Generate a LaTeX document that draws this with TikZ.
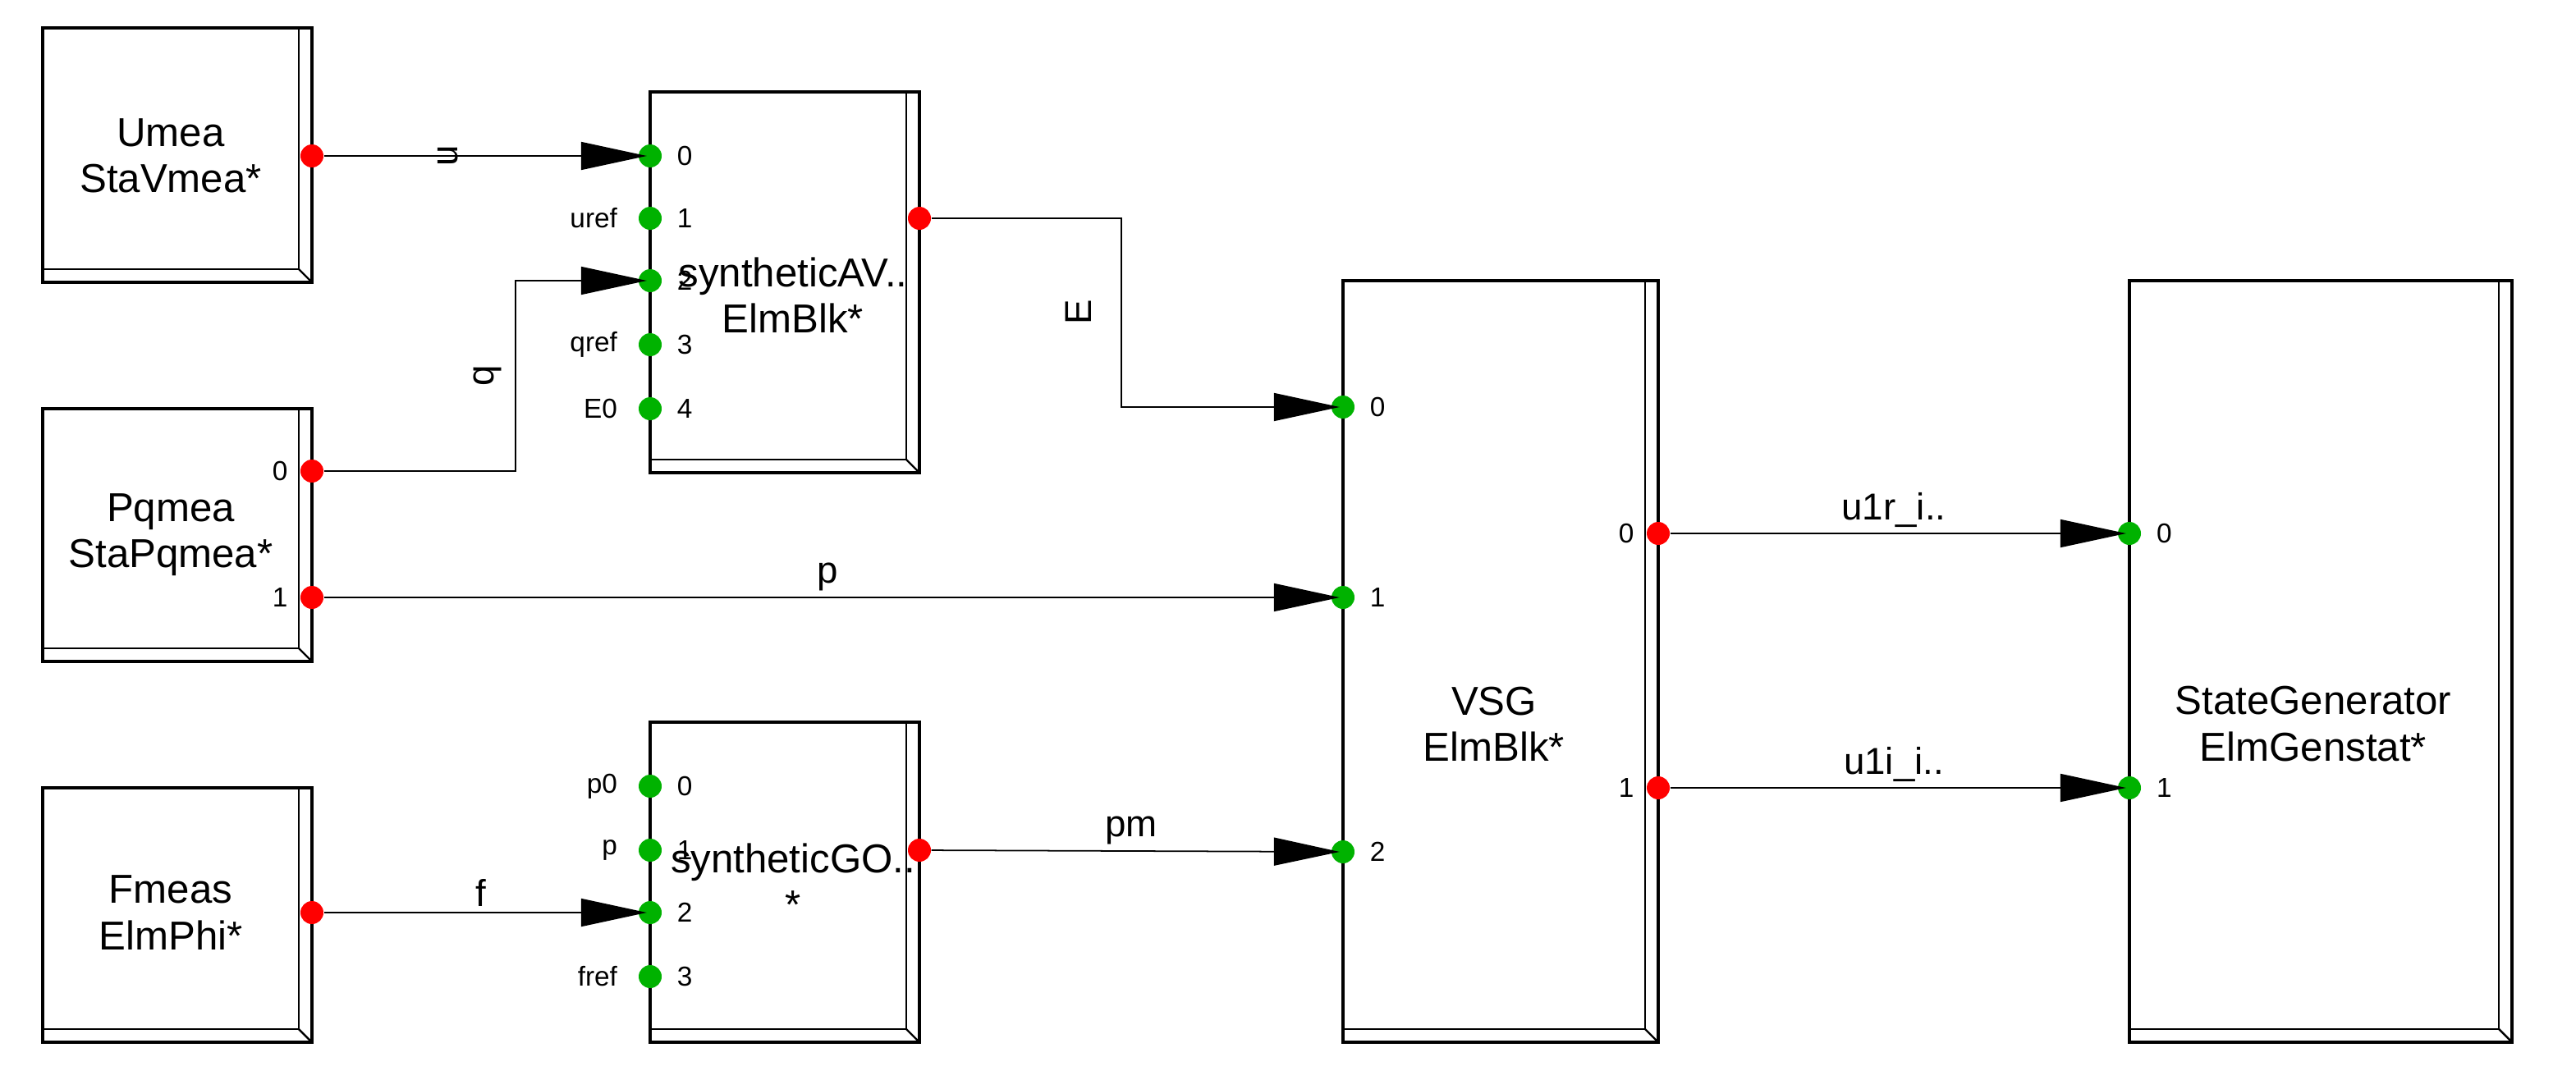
\documentclass[tikz,border=0pt]{standalone}
\usepackage{fontspec}
\setmainfont{Liberation Sans}
\usetikzlibrary{arrows.meta,positioning}

\tikzset{
  blk/.style={draw=black, line width=0.9pt, fill=white},
  bev/.style={draw=black, line width=0.7pt},
  pin/.style={circle, inner sep=0pt, minimum size=0.28cm},
  inp/.style={pin, fill=green!70!black},
  outp/.style={pin, fill=red},
  title/.style={font=\fontsize{14}{16}\selectfont, align=center},
  plab/.style={font=\fontsize{9.5}{11}\selectfont, inner sep=1pt},
  wire/.style={draw=black, line width=0.5pt},
  sig/.style={wire, -{Triangle[length=0.8cm,width=0.34cm,fill=black]}, shorten >=-3pt},
  wlab/.style={font=\fontsize{13}{15}\selectfont, inner sep=2pt}
}

% block with a bevelled right and bottom edge
\newcommand{\blkbox}[4]{%
  \draw[blk] (#1,#2) rectangle (#3,#4);
  \draw[bev] (#3-8,#2) -- (#3-8,#4-8) -- (#1,#4-8);
  \draw[bev] (#3-8,#4-8) -- (#3,#4);
}

\begin{document}
\begin{tikzpicture}[x=0.02cm, y=-0.02cm]
  \useasboundingbox (0,0) rectangle (1569,663);

  % blocks
  \blkbox{26}{17}{190}{172}
  \blkbox{26}{249}{190}{403}
  \blkbox{26}{480}{190}{635}
  \blkbox{396}{56}{560}{288}
  \blkbox{396}{440}{560}{635}
  \blkbox{818}{171}{1010}{635}
  \blkbox{1297}{171}{1530}{635}

  \node[title] (umea) at (104,95) {Umea\\StaVmea*};
  \node[title] (pqmea) at (104,326) {Pqmea\\StaPqmea*};
  \node[title] (fmeas) at (104,556) {Fmeas\\ElmPhi*};
  \node[title] (avr) at (483,180) {syntheticAV..\\ElmBlk*};
  \node[title] (gov) at (483,537) {syntheticGO..\\*};
  \node[title] (vsg) at (910,441) {VSG\\ElmBlk*};
  \node[title] (gen) at (1409,441) {StateGenerator\\ElmGenstat*};

  % ports
  \node[outp] (umeaout) at (190,95) {};
  \node[outp] (pqout0) at (190,287) {};
  \node[outp] (pqout1) at (190,364) {};
  \node[outp] (fout) at (190,556) {};
  \node[outp] (avrout) at (560,133) {};
  \node[outp] (govout) at (560,518) {};
  \node[outp] (vsgout0) at (1010,325) {};
  \node[outp] (vsgout1) at (1010,480) {};
  \node[plab, left=3pt of pqout0] {0};
  \node[plab, left=3pt of pqout1] {1};
  \node[plab, left=3pt of vsgout0] {0};
  \node[plab, left=3pt of vsgout1] {1};

  \foreach \i/\y/\n in {0/95/, 1/133/uref, 2/171/, 3/210/qref, 4/249/E0} {
    \node[inp] (avrin\i) at (396,\y) {};
    \node[plab, right=4pt of avrin\i] {\i};
    \node[plab, left=6pt of avrin\i] {\n};
  }
  \foreach \i/\y/\n in {0/479/p0, 1/518/p, 2/556/, 3/595/fref} {
    \node[inp] (govin\i) at (396,\y) {};
    \node[plab, right=4pt of govin\i] {\i};
    \node[plab, left=6pt of govin\i] {\n};
  }
  \foreach \i/\y in {0/248, 1/364, 2/519} {
    \node[inp] (vsgin\i) at (818,\y) {};
    \node[plab, right=4pt of vsgin\i] {\i};
  }
  \foreach \i/\y in {0/325, 1/480} {
    \node[inp] (genin\i) at (1297,\y) {};
    \node[plab, right=4pt of genin\i] {\i};
  }

  % signals
  \draw[sig] (umeaout) -- (avrin0);
  \node[wlab, rotate=90] (ulab) at (273,95) {u};
  \draw[sig] (pqout0) -- (314,287) |- (avrin2);
  \node[wlab, rotate=90] (qlab) at (297,229) {q};
  \draw[sig] (avrout) -- (683,133) |- (vsgin0);
  \node[wlab, rotate=90] (elab) at (657,190) {E};
  \draw[sig] (pqout1) -- node[wlab, above] {p} (vsgin1);
  \draw[sig] (govout) -- node[wlab, above] {pm} (vsgin2);
  \draw[sig] (fout) -- node[wlab, above] {f} (govin2);
  \draw[sig] (vsgout0) -- node[wlab, above] {u1r\_i..} (genin0);
  \draw[sig] (vsgout1) -- node[wlab, above] {u1i\_i..} (genin1);
\end{tikzpicture}
\end{document}
